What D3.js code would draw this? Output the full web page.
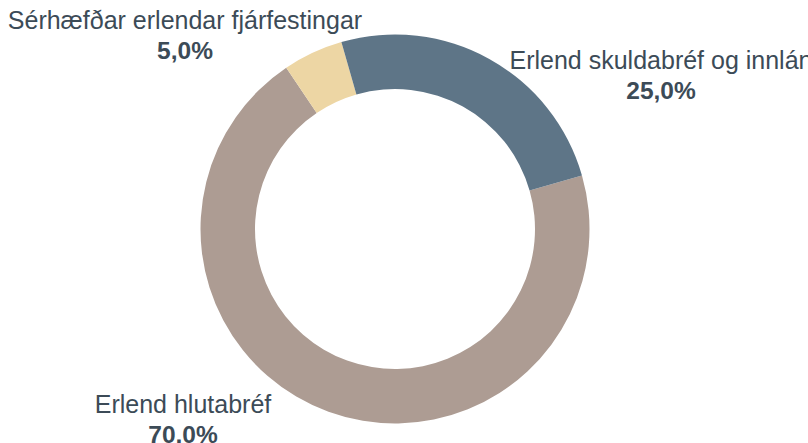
<!DOCTYPE html>
<html><head><meta charset="utf-8">
<script src="https://cdn.jsdelivr.net/npm/d3@7"></script>
<style>body{margin:0;background:#fff}svg{display:block}</style>
</head><body>
<svg id="c" width="808" height="443"></svg>
<script>
const categories = ["Erlend hlutabréf", "Sérhæfðar erlendar fjárfestingar", "Erlend skuldabréf og innlán"];
const values = [70.0, 5.0, 25.0];
const valueLabels = ["70,0%", "5,0%", "25,0%"];
const colors = ["#ad9c93", "#edd6a4", "#5e7587"];

// layout (not data)
const cx = 395, cy = 229, outerR = 194.5, innerR = 140;
const startDeg = 74;
const labelPos = [[183, 413], [185, 29], [661, 69]];

const svg = d3.select("#c");
const g = svg.append("g").attr("transform", `translate(${cx},${cy})`);
const pie = d3.pie().sort(null).value(d => d)
  .startAngle(startDeg * Math.PI / 180)
  .endAngle(startDeg * Math.PI / 180 + 2 * Math.PI);
const arc = d3.arc().innerRadius(innerR).outerRadius(outerR);

g.selectAll("path").data(pie(values)).join("path")
  .attr("d", arc)
  .attr("fill", (d, i) => colors[i]);

const lab = svg.append("g");
categories.forEach((c, i) => {
  const t = lab.append("text")
    .attr("x", labelPos[i][0]).attr("y", labelPos[i][1])
    .attr("text-anchor", "middle")
    .attr("font-family", "Liberation Sans, Arial, sans-serif")
    .attr("fill", "#3c4b57");
  t.append("tspan").attr("x", labelPos[i][0]).attr("font-size", 25).text(c);
  t.append("tspan").attr("x", labelPos[i][0]).attr("dy", 30)
    .attr("font-size", 24.5).attr("font-weight", "bold").text(valueLabels[i]);
});
</script>
</body></html>
